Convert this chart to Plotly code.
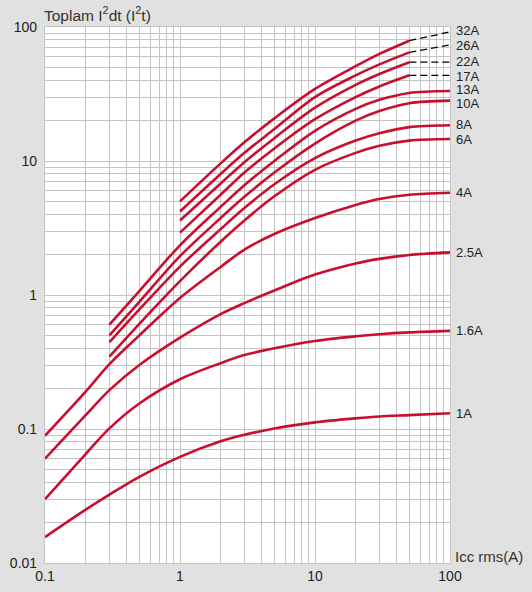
import math
import plotly.graph_objects as go

# x grids (Icc rms, A)
x_long = [0.1, 0.2, 0.3, 0.5, 1, 2, 3, 5, 10, 20, 30, 50, 100]
x_mid = [0.3, 0.5, 1, 2, 3, 5, 10, 20, 30, 50, 100]
x_top = [1, 2, 3, 5, 10, 20, 30, 50]
x_dash = [50, 100]

# total I2t values
i2t_1a = [0.0156, 0.025, 0.0324, 0.044, 0.062, 0.081, 0.0905, 0.101, 0.112, 0.120, 0.124, 0.127, 0.131]
i2t_1_6a = [0.030, 0.065, 0.101, 0.155, 0.235, 0.31, 0.356, 0.40, 0.454, 0.492, 0.51, 0.526, 0.54]
i2t_2_5a = [0.060, 0.127, 0.195, 0.30, 0.48, 0.72, 0.87, 1.08, 1.42, 1.72, 1.86, 1.99, 2.08]
i2t_4a = [0.089, 0.19, 0.305, 0.50, 0.95, 1.62, 2.18, 2.85, 3.75, 4.7, 5.2, 5.6, 5.8]

i2t_6a = [0.347, 0.61, 1.27, 2.5, 3.6, 5.45, 8.6, 11.5, 13.0, 14.2, 14.6]
i2t_8a = [0.444, 0.78, 1.63, 3.1, 4.45, 6.7, 10.5, 14.2, 16.1, 17.9, 18.5]
i2t_10a = [0.50, 0.89, 1.95, 3.75, 5.4, 8.2, 13.5, 20.0, 23.6, 27.0, 28.2]
i2t_13a = [0.60, 1.07, 2.35, 4.55, 6.6, 10.0, 16.8, 24.5, 28.6, 32.2, 33.3]

i2t_17a = [2.92, 5.6, 8.2, 12.4, 20.5, 30.0, 36.0, 43.6]
i2t_22a = [3.6, 6.8, 9.8, 14.8, 25.0, 37.0, 44.6, 54.6]
i2t_26a = [4.2, 8.0, 11.5, 17.3, 30.0, 43.5, 52.6, 64.7]
i2t_32a = [5.0, 9.6, 13.8, 20.8, 34.5, 51.0, 63.0, 79.0]

# dashed extrapolation 50 -> 100 A
dash_17a = [43.6, 43.6]
dash_22a = [54.6, 54.6]
dash_26a = [64.7, 73.5]
dash_32a = [79.0, 92.0]

RED = "#c8102e"
GRID = "#c4c4c4"

solid = [
    ("1A", x_long, i2t_1a), ("1.6A", x_long, i2t_1_6a),
    ("2.5A", x_long, i2t_2_5a), ("4A", x_long, i2t_4a),
    ("6A", x_mid, i2t_6a), ("8A", x_mid, i2t_8a),
    ("10A", x_mid, i2t_10a), ("13A", x_mid, i2t_13a),
    ("17A", x_top, i2t_17a), ("22A", x_top, i2t_22a),
    ("26A", x_top, i2t_26a), ("32A", x_top, i2t_32a),
]
dashed = [("17A", dash_17a), ("22A", dash_22a), ("26A", dash_26a), ("32A", dash_32a)]

# small vertical nudges so crowded labels sit like in the original
label_nudge = {"32A": 1, "26A": -1, "22A": 1, "17A": -1, "13A": 1, "10A": -3, "8A": 1, "6A": -1}

fig = go.Figure()
for name, xs, ys in solid:
    fig.add_trace(go.Scatter(x=xs, y=ys, mode="lines", name=name,
                             line=dict(color=RED, width=2.6, shape="spline", smoothing=0.9)))
for name, ys in dashed:
    fig.add_trace(go.Scatter(x=x_dash, y=ys, mode="lines", name=name + " ext",
                             line=dict(color="black", width=1.3, dash="7px,4px")))

# curve labels at the right end of each line
end_vals = {n: ys[-1] for n, xs, ys in solid}
end_vals.update({n: ys[-1] for n, ys in dashed})
for name, val in end_vals.items():
    fig.add_annotation(x=2, y=math.log10(val), text=name, showarrow=False,
                       xanchor="left", xshift=4, yshift=label_nudge.get(name, 0),
                       font=dict(size=13, color="#222", family="Liberation Sans"))

fig.add_annotation(x=0, y=1, xref="paper", yref="paper", text="Toplam I<sup>2</sup>dt (I<sup>2</sup>t)",
                   showarrow=False, xanchor="left", yanchor="bottom", yshift=1, xshift=-3,
                   font=dict(size=15.5, color="#333", family="Liberation Sans"))
fig.add_annotation(x=1, y=0, xref="paper", yref="paper", text="Icc rms(A)",
                   showarrow=False, xanchor="left", yanchor="bottom", xshift=3, yshift=-4,
                   font=dict(size=15, color="#333", family="Liberation Sans"))

def log_ticks(lo, hi):
    vals, txt = [], []
    for d in range(lo, hi):
        for k in range(1, 10):
            vals.append(k * 10 ** d)
            txt.append(("%g" % (10 ** d)) if k == 1 else "")
    vals.append(10 ** hi)
    txt.append("%g" % (10 ** hi))
    return vals, txt

xv, xt = log_ticks(-1, 2)
yv, yt = log_ticks(-2, 2)

axis_style = dict(type="log", showgrid=True, gridcolor=GRID, gridwidth=1.2,
                  showline=True, linecolor=GRID, linewidth=1.2, mirror=True,
                  ticks="", zeroline=False, automargin=False,
                  tickfont=dict(size=14, color="#222", family="Liberation Sans"))
fig.update_xaxes(range=[-1, 2], tickvals=xv, ticktext=xt, **axis_style)
fig.update_yaxes(range=[-2, 2], tickvals=yv, ticktext=yt, ticklabelstandoff=4, **axis_style)

fig.update_layout(width=532, height=592, showlegend=False,
                  paper_bgcolor="#e1e1e1", plot_bgcolor="white",
                  margin=dict(l=45, r=82, t=27, b=29))
# page body has a default 8px margin; remove it so the figure fills the window
fig.write_html("out.html", config={"displayModeBar": False},
               post_script="document.body.style.margin='0';")
